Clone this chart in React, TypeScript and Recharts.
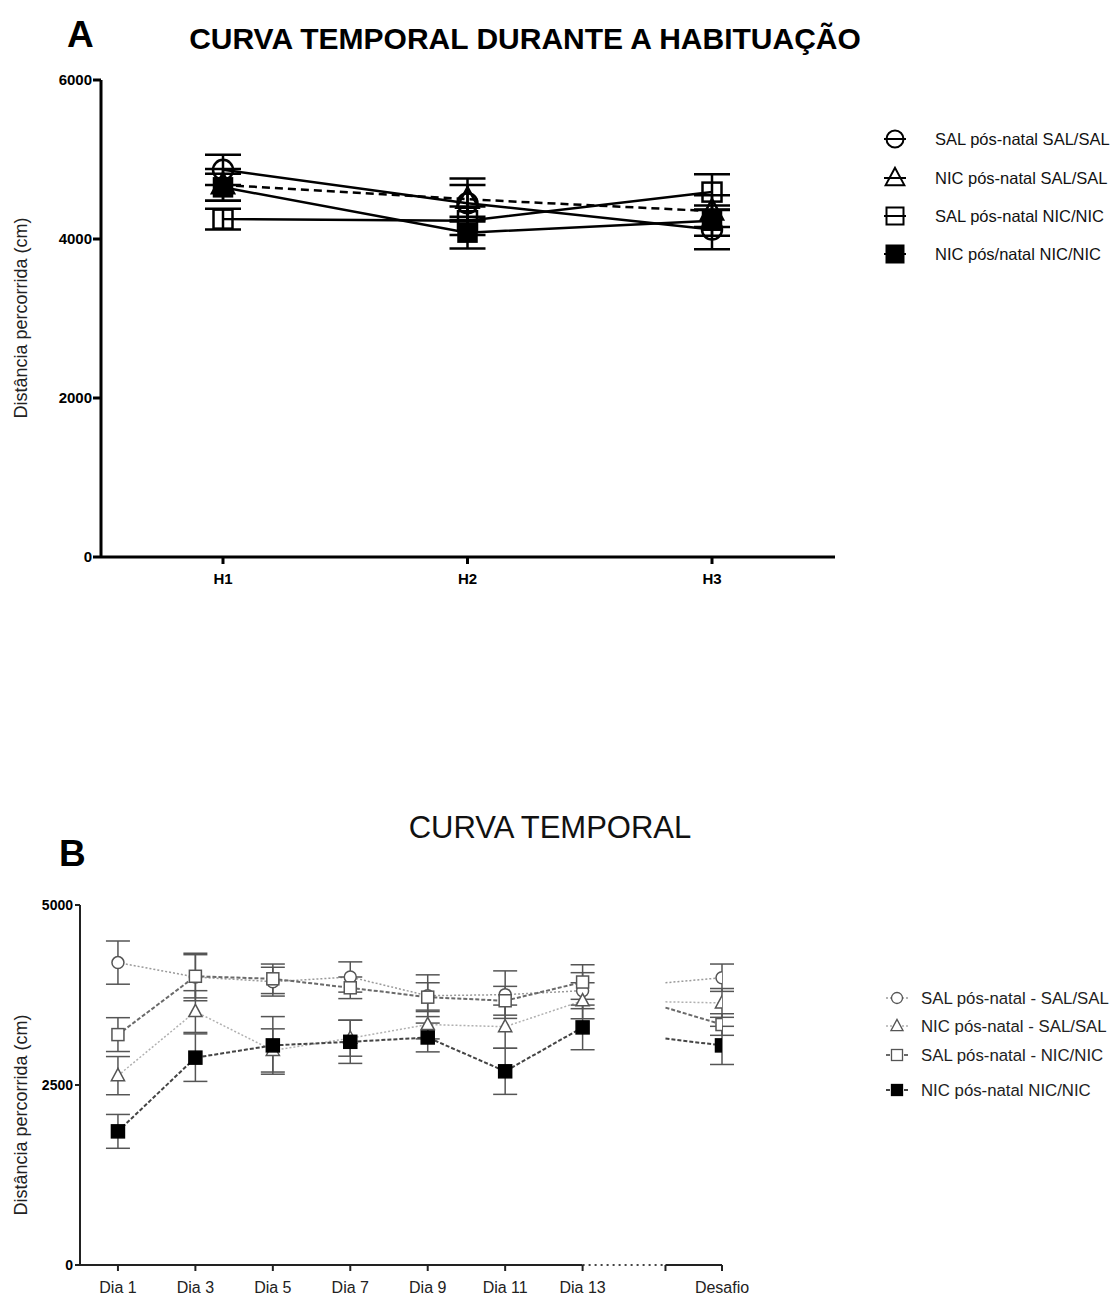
import React from "react"
import { LineChart, Line, XAxis, YAxis, ErrorBar, ReferenceLine } from "recharts"

// Painel A - habituação
const habLabels = ["H1", "H2", "H3"]
const habSalSal = [4870, 4450, 4120]
const habSalSalErr = [190, 230, 250]
const habNicSalSal = [4680, 4500, 4350]
const habNicSalSalErr = [200, 260, 200]
const habSalNicNic = [4250, 4230, 4590]
const habSalNicNicErr = [130, 180, 225]
const habNicNicNic = [4650, 4080, 4230]
const habNicNicNicErr = [170, 200, 190]
const habTicksY = [0, 2000, 4000, 6000]

// Painel B - curva temporal
const dayLabels = ["Dia 1", "Dia 3", "Dia 5", "Dia 7", "Dia 9", "Dia 11", "Dia 13", "Desafio"]
const dayAxisPos = [1, 2, 3, 4, 5, 6, 7, 8.8]
const breakGapPos = 7.5
const breakEndPos = 8.07
const daySalSal = [4200, 4000, 3935, 4000, 3740, 3755, 3810, 3990]
const daySalSalErr = [300, 330, 200, 210, 290, 330, 250, 190]
const dayNicSalSal = [2630, 3520, 2980, 3150, 3340, 3310, 3670, 3640]
const dayNicSalSalErr = [265, 290, 300, 250, 200, 300, 250, 200]
const daySalNicNic = [3200, 4010, 3975, 3850, 3720, 3670, 3930, 3340]
const daySalNicNicErr = [235, 300, 205, 150, 200, 200, 240, 150]
const dayNicNicNic = [1856, 2880, 3050, 3100, 3160, 2690, 3300, 3050]
const dayNicNicNicErr = [235, 330, 400, 300, 200, 320, 310, 265]
// where the lines resume after the axis break
const stubSalSal = 3920
const stubNicSalSal = 3655
const stubSalNicNic = 3575
const stubNicNicNic = 3145
const dayTicksY = [0, 2500, 5000]

const FONT = "'Liberation Sans', Arial, sans-serif"

const habData = habLabels.map((label, i) => ({
    label,
    a: habSalSal[i], aErr: habSalSalErr[i],
    b: habNicSalSal[i], bErr: habNicSalSalErr[i],
    c: habSalNicNic[i], cErr: habSalNicNicErr[i],
    d: habNicNicNic[i], dErr: habNicNicNicErr[i],
}))

const dayRow = (i: number) => ({
    x: dayAxisPos[i],
    a: daySalSal[i], aErr: daySalSalErr[i],
    b: dayNicSalSal[i], bErr: dayNicSalSalErr[i],
    c: daySalNicNic[i], cErr: daySalNicNicErr[i],
    d: dayNicNicNic[i], dErr: dayNicNicNicErr[i],
})

const dayData = [
    ...dayLabels.slice(0, 7).map((_, i) => dayRow(i)),
    { x: breakGapPos, a: null, b: null, c: null, d: null },
    { x: breakEndPos, a: stubSalSal, b: stubNicSalSal, c: stubSalNicNic, d: stubNicNicNic, stub: true },
    dayRow(7),
]

const dayTicksX = [...dayAxisPos.slice(0, 7), breakEndPos, dayAxisPos[7]]
const dayTickLabel = (v: number) => {
    const i = dayAxisPos.indexOf(v)
    return i >= 0 ? dayLabels[i] : ""
}

type Kind = "circle" | "triangle" | "square" | "filled"

function marker(kind: Kind, cx: number, cy: number, s: number, stroke: string, sw: number, fill: string, key?: any) {
    if (kind === "circle") {
        return <circle key={key} cx={cx} cy={cy} r={s / 2} fill={fill} stroke={stroke} strokeWidth={sw} />
    }
    if (kind === "triangle") {
        const pts = `${cx},${cy - s * 0.6} ${cx - s * 0.55},${cy + s * 0.42} ${cx + s * 0.55},${cy + s * 0.42}`
        return <polygon key={key} points={pts} fill={fill} stroke={stroke} strokeWidth={sw} strokeLinejoin="miter" />
    }
    if (kind === "square") {
        return <rect key={key} x={cx - s / 2} y={cy - s / 2} width={s} height={s} fill={fill} stroke={stroke} strokeWidth={sw} />
    }
    return <rect key={key} x={cx - s / 2} y={cy - s / 2} width={s} height={s} fill={stroke} stroke={stroke} strokeWidth={sw} />
}

const makeDot = (kind: Kind, s: number, stroke: string, sw: number, fill: string) => (p: any) => {
    const { cx, cy, payload, index, value } = p
    if (cx == null || cy == null || value == null || (payload && payload.stub)) return <g key={`e${index}`} />
    return marker(kind, cx, cy, s, stroke, sw, fill, `m${index}`)
}

const habSeries = [
    { key: "a", name: "SAL pós-natal SAL/SAL", kind: "circle" as Kind, dash: undefined, size: 20 },
    { key: "b", name: "NIC pós-natal SAL/SAL", kind: "triangle" as Kind, dash: "8 5", size: 20 },
    { key: "c", name: "SAL pós-natal NIC/NIC", kind: "square" as Kind, dash: undefined, size: 19 },
    { key: "d", name: "NIC pós/natal NIC/NIC", kind: "filled" as Kind, dash: undefined, size: 18 },
]

const daySeries = [
    { key: "a", name: "SAL pós-natal - SAL/SAL", kind: "circle" as Kind, dash: "2 2", line: "#9a9a9a", lw: 1.5, mark: "#555", size: 12 },
    { key: "b", name: "NIC pós-natal - SAL/SAL", kind: "triangle" as Kind, dash: "2 2", line: "#b0b0b0", lw: 1.5, mark: "#555", size: 12 },
    { key: "c", name: "SAL pós-natal - NIC/NIC", kind: "square" as Kind, dash: "4 2", line: "#6a6a6a", lw: 2, mark: "#555", size: 12 },
    { key: "d", name: "NIC pós-natal  NIC/NIC", kind: "filled" as Kind, dash: "4 2", line: "#444", lw: 2, mark: "#000", size: 13 },
]

const legendARows = [139, 178, 216, 254]
const legendBRows = [998, 1026, 1055, 1090]

export default function App() {
    return (
        <div style={{ position: "absolute", left: 0, top: 0, width: 1113, height: 1302, background: "#fff", fontFamily: FONT }}>
            <div style={{ position: "absolute", left: 0, top: 0 }}>
                <LineChart width={1113} height={620} data={habData} margin={{ top: 80, right: 278, left: 0, bottom: 23 }}>
                    <XAxis
                        dataKey="label"
                        height={40}
                        padding={{ left: 122, right: 123 }}
                        axisLine={{ stroke: "#000", strokeWidth: 3 }}
                        tickLine={{ stroke: "#000", strokeWidth: 3 }}
                        tickSize={7}
                        tickMargin={9}
                        tick={{ fill: "#000", fontSize: 15, fontWeight: 700, fontFamily: FONT }}
                    />
                    <YAxis
                        width={101}
                        domain={[0, 6000]}
                        ticks={habTicksY}
                        axisLine={{ stroke: "#000", strokeWidth: 3 }}
                        tickLine={{ stroke: "#000", strokeWidth: 3 }}
                        tickSize={8}
                        tickMargin={1}
                        tick={{ fill: "#000", fontSize: 15, fontWeight: 700, fontFamily: FONT }}
                    />
                    {habSeries.map((s) => (
                        <Line
                            key={s.key}
                            dataKey={s.key}
                            name={s.name}
                            stroke="#000"
                            strokeWidth={2.5}
                            strokeDasharray={s.dash}
                            isAnimationActive={false}
                            dot={makeDot(s.kind, s.size, "#000", 2.5, "none")}
                            activeDot={false}
                        >
                            <ErrorBar dataKey={`${s.key}Err`} width={18} stroke="#000" strokeWidth={2.5} direction="y" />
                        </Line>
                    ))}
                </LineChart>
            </div>

            <div style={{ position: "absolute", left: 0, top: 650 }}>
                <LineChart width={1113} height={652} data={dayData} margin={{ top: 255, right: 391, left: 0, bottom: 5 }}>
                    <XAxis
                        type="number"
                        dataKey="x"
                        domain={[0.51, 8.8]}
                        allowDataOverflow
                        ticks={dayTicksX}
                        tickFormatter={dayTickLabel}
                        interval={0}
                        height={32}
                        axisLine={false}
                        tickLine={{ stroke: "#222", strokeWidth: 2 }}
                        tickSize={6}
                        tickMargin={11}
                        tick={{ fill: "#222", fontSize: 16, fontFamily: FONT }}
                    />
                    <YAxis
                        width={80}
                        domain={[0, 5000]}
                        ticks={dayTicksY}
                        axisLine={{ stroke: "#222", strokeWidth: 2 }}
                        tickLine={{ stroke: "#222", strokeWidth: 2 }}
                        tickSize={5}
                        tickMargin={2}
                        tick={{ fill: "#000", fontSize: 14, fontWeight: 700, fontFamily: FONT }}
                    />
                    <ReferenceLine segment={[{ x: 0.51, y: 0 }, { x: 7, y: 0 }]} stroke="#222" strokeWidth={2} />
                    <ReferenceLine segment={[{ x: 7, y: 0 }, { x: breakEndPos, y: 0 }]} stroke="#444" strokeWidth={2} strokeDasharray="2 4" />
                    <ReferenceLine segment={[{ x: breakEndPos, y: 0 }, { x: 8.8, y: 0 }]} stroke="#222" strokeWidth={2} />
                    {daySeries.map((s) => (
                        <Line
                            key={s.key}
                            dataKey={s.key}
                            name={s.name}
                            stroke={s.line}
                            strokeWidth={s.lw}
                            strokeDasharray={s.dash}
                            connectNulls={false}
                            isAnimationActive={false}
                            dot={makeDot(s.kind, s.size, s.mark, 1.5, "#fff")}
                            activeDot={false}
                        >
                            <ErrorBar dataKey={`${s.key}Err`} width={12} stroke="#555" strokeWidth={1.5} direction="y" />
                        </Line>
                    ))}
                </LineChart>
            </div>

            <svg width={1113} height={1302} style={{ position: "absolute", left: 0, top: 0, pointerEvents: "none" }}>
                <text x={67} y={47} fontSize={37} fontWeight={700} fill="#000" fontFamily={FONT}>A</text>
                <text x={525} y={49} fontSize={30} fontWeight={700} fill="#000" textAnchor="middle" fontFamily={FONT}>
                    CURVA TEMPORAL DURANTE A HABITUAÇÃO
                </text>
                <text x={27} y={318} fontSize={18} fill="#222" textAnchor="middle" fontFamily={FONT} transform="rotate(-90 27 318)">
                    Distância percorrida (cm)
                </text>
                <text x={59} y={866} fontSize={37} fontWeight={700} fill="#000" fontFamily={FONT}>B</text>
                <text x={550} y={838} fontSize={31} fill="#111" textAnchor="middle" fontFamily={FONT}>CURVA TEMPORAL</text>
                <text x={27} y={1115} fontSize={18} fill="#222" textAnchor="middle" fontFamily={FONT} transform="rotate(-90 27 1115)">
                    Distância percorrida (cm)
                </text>

                {habSeries.map((s, i) => {
                    const y = legendARows[i]
                    return (
                        <g key={s.key}>
                            <line x1={884} x2={906} y1={y} y2={y} stroke="#000" strokeWidth={2} />
                            {marker(s.kind, 895, y, 17, "#000", 2, "none")}
                            <text x={935} y={y + 6} fontSize={16.5} fill="#111" fontFamily={FONT}>{s.name}</text>
                        </g>
                    )
                })}
                {daySeries.map((s, i) => {
                    const y = legendBRows[i]
                    return (
                        <g key={s.key}>
                            <line x1={886} x2={908} y1={y} y2={y} stroke={s.line} strokeWidth={s.lw} strokeDasharray={s.dash} />
                            {marker(s.kind, 897, y, 11, s.mark, 1.3, "#fff")}
                            <text x={921} y={y + 6} fontSize={16.8} fill="#222" fontFamily={FONT}>{s.name}</text>
                        </g>
                    )
                })}
            </svg>
        </div>
    )
}
